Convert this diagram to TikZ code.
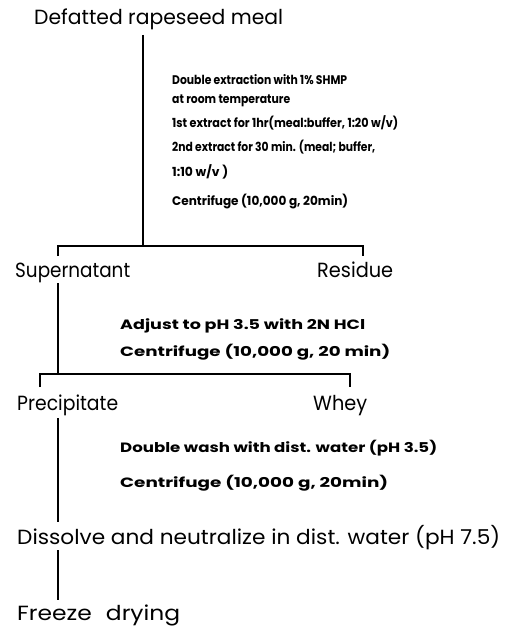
\documentclass[tikz,border=0pt]{standalone}
\usepackage{fontspec}
\usepackage{graphicx}
\setmainfont{Poppins}
\newcommand\fitw[2]{\resizebox{#1pt}{\height}{#2}}
\tikzset{
  lab/.style={anchor=base west, inner sep=0pt, font=\fontsize{20.5}{22}\selectfont},
  stepa/.style={anchor=base west, inner sep=0pt, font=\fontsize{12.5}{14}\selectfont\bfseries},
  stepb/.style={anchor=base west, inner sep=0pt, font=\fontsize{13.5}{15}\selectfont\bfseries},
  flow/.style={line width=2pt},
}
\begin{document}
\begin{tikzpicture}[x=1pt,y=-1pt]
\useasboundingbox (0,0) rectangle (532,626);
% labels
\node[lab] (meal) at (34,24) {\fitw{249}{Defatted rapeseed meal}};
\node[lab] (sup) at (15,277) {\fitw{115}{Supernatant}};
\node[lab] (res) at (317,277) {\fitw{76}{Residue}};
\node[lab] (pre) at (17,410) {\fitw{101}{Precipitate}};
\node[lab] (whey) at (313,410) {\fitw{54}{Whey}};
\node[lab] (dis) at (17,544) {\fitw{483}{Dissolve and neutralize in dist. water (pH 7.5)}};
\node[lab] (fd) at (17,620) {\fitw{163}{Freeze\hspace{0.6em}drying}};
% step texts
\node[stepa] (s1) at (172,84.5) {\fitw{175}{Double extraction with 1\% SHMP}};
\node[stepa] (s2) at (172,103.5) {\fitw{118}{at room temperature}};
\node[stepa] (s3) at (172,127.5) {\fitw{226}{1st extract for 1hr(meal:buffer, 1:20 w/v)}};
\node[stepa] (s4) at (172,151.5) {\fitw{203}{2nd extract for 30 min. (meal; buffer,}};
\node[stepa] (s5) at (172,176.5) {\fitw{56}{1:10 w/v )}};
\node[stepa] (s6) at (172,205.5) {\fitw{176}{Centrifuge (10,000 g, 20min)}};
\node[stepb] (a1) at (120,329) {\fitw{245}{Adjust to pH 3.5 with 2N HCl}};
\node[stepb] (a2) at (120,356) {\fitw{270}{Centrifuge (10,000 g, 20 min)}};
\node[stepb] (w1) at (120,452) {\fitw{317}{Double wash with dist. water (pH 3.5)}};
\node[stepb] (w2) at (120,487) {\fitw{268}{Centrifuge (10,000 g, 20min)}};
% connectors
\coordinate (j1) at (143,246);
\coordinate (j1l) at (58,246);
\coordinate (j1r) at (363,246);
\coordinate (j2) at (58,374);
\coordinate (j2l) at (40,374);
\coordinate (j2r) at (350,374);
\draw[flow] (143,35) -- (j1);
\draw[flow] (j1l |- 0,256) -- (j1l) -- (j1r) -- (j1r |- 0,256);
\draw[flow] (58,283) -- (j2);
\draw[flow] (j2l |- 0,387) -- (j2l) -- (j2r) -- (j2r |- 0,387);
\draw[flow] (58,418) -- (58,522);
\draw[flow] (58,550) -- (58,600);
\end{tikzpicture}
\end{document}
